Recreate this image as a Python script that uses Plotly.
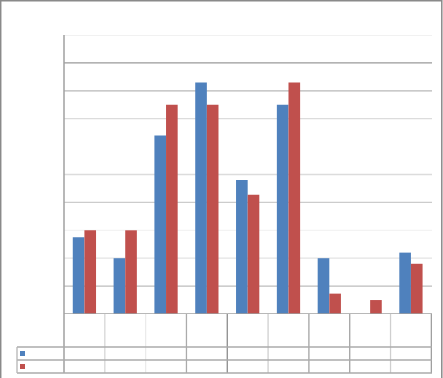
import plotly.graph_objects as go

categories = ["C1", "C2", "C3", "C4", "C5", "C6", "C7", "C8", "C9"]
series_a = [2.75, 2.0, 6.4, 8.3, 4.8, 7.5, 2.0, 0.0, 2.2]
series_b = [3.0, 3.0, 7.5, 7.5, 4.27, 8.3, 0.73, 0.5, 1.8]
grid_values = [1, 2, 3, 4, 5, 7, 8, 9, 10]
grid_colors = ["#bdbdbd", "#e3e3e3", "#f3f3f3", "#cccccc", "#dcdcdc", "#dcdcdc", "#b8b8b8", "#9a9a9a", "#ececec"]
table_v_colors = ["#d6d6d6", "#ebebeb", "#ababab", "#8c8c8c", "#cfcfcf", "#a3a3a3", "#a3a3a3", "#cfcfcf", "#a0a0a0"]

W, H = 443, 378
L, R, T, B = 64, 11, 35, 64
pw, ph = W - L - R, H - T - B

def px(x):
    return (x - L) / pw

def py(y):
    return (H - B - y) / ph

fig = go.Figure()
fig.add_bar(x=categories, y=series_a, marker=dict(color="#4F81BD", line=dict(width=0)), name="A")
fig.add_bar(x=categories, y=series_b, marker=dict(color="#C0504D", line=dict(width=0)), name="B")

shapes = []
# gridlines
for v, c in zip(grid_values, grid_colors):
    shapes.append(dict(type="line", xref="paper", yref="y", x0=0, x1=1, y0=v, y1=v,
                       line=dict(color=c, width=1.3), layer="below"))
# y axis line
shapes.append(dict(type="line", xref="paper", yref="paper", x0=0, x1=0, y0=1, y1=py(373),
                   line=dict(color="#a0a0a0", width=1.5)))
# baseline
shapes.append(dict(type="line", xref="paper", yref="y", x0=0, x1=1, y0=0, y1=0,
                   line=dict(color="#a0a0a0", width=1.5)))
# table vertical lines at category boundaries
for i, c in enumerate(table_v_colors):
    shapes.append(dict(type="line", xref="x", yref="paper", x0=i + 0.5, x1=i + 0.5,
                       y0=0, y1=py(373), line=dict(color=c, width=1.3)))
# table horizontal lines
for yy in [347, 360, 373]:
    shapes.append(dict(type="line", xref="paper", yref="paper", x0=px(17), x1=1,
                       y0=py(yy), y1=py(yy), line=dict(color="#ababab", width=1.3)))
# table left edge
shapes.append(dict(type="line", xref="paper", yref="paper", x0=px(17), x1=px(17),
                   y0=py(347), y1=py(373), line=dict(color="#b5b5b5", width=1.3)))
# legend keys
for (y0, col) in [(351, "#4F81BD"), (364, "#C0504D")]:
    shapes.append(dict(type="rect", xref="paper", yref="paper", x0=px(20), x1=px(25),
                       y0=py(y0), y1=py(y0 + 5), fillcolor=col, line=dict(width=0)))
# outer border
shapes.append(dict(type="rect", xref="paper", yref="paper", x0=px(0.7), x1=px(441.8),
                   y0=py(390), y1=py(0.7), line=dict(color="#8a8a8a", width=1.5)))

fig.update_layout(
    width=W, height=H,
    margin=dict(l=L, r=R, t=T, b=B),
    paper_bgcolor="white", plot_bgcolor="white",
    barmode="group", bargap=0.43, bargroupgap=0,
    showlegend=False,
    shapes=shapes,
    xaxis=dict(showticklabels=False, showgrid=False, zeroline=False, showline=False, ticks=""),
    yaxis=dict(range=[0, 10], showticklabels=False, showgrid=False, zeroline=False,
               showline=False, ticks=""),
)
fig.write_html("out.html", config={"displayModeBar": False})
